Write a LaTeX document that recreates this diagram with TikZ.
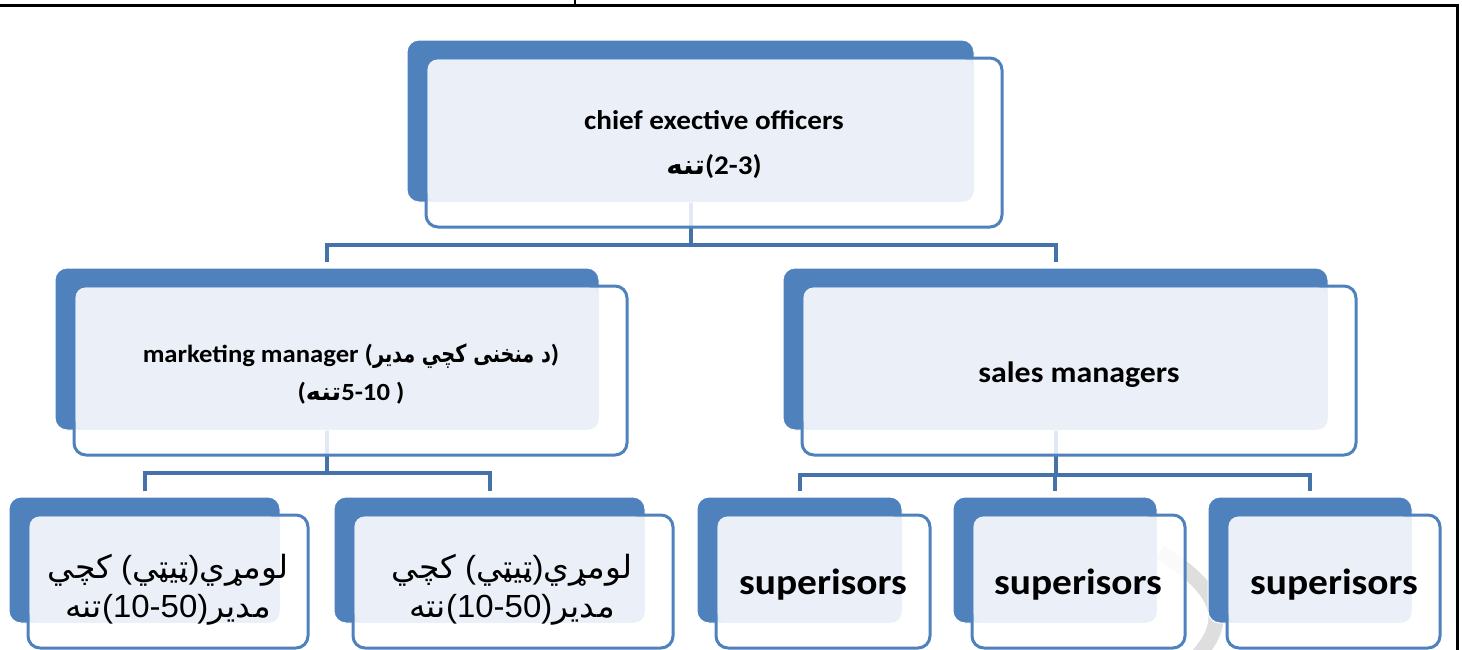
\documentclass[tikz,border=0pt]{standalone}
\usepackage{fontspec}
\setmainfont[FakeStretch=1.08]{Carlito}
\newfontfamily\arb[Script=Arabic,FakeStretch=1.03]{DejaVu Sans}
\newfontfamily\arbn[Script=Arabic,FakeStretch=0.78]{DejaVu Sans}
\newfontfamily\arl[FakeStretch=1.03]{Liberation Sans}
\TeXXeTstate=1
\usetikzlibrary{fit}
\pgfdeclarelayer{bg}
\pgfsetlayers{bg,main}
\definecolor{bback}{HTML}{4F81BD}
\definecolor{bline}{HTML}{4F81BD}
\definecolor{blight}{HTML}{EBF0F8}
\definecolor{bconn}{RGB}{70,114,170}
\definecolor{wmark}{HTML}{DEDEDE}
\tikzset{
  backbox/.style={fill=bback, draw=white, line width=1pt, rounded corners=12pt, inner sep=0pt, outer sep=0pt},
  frontbox/.style={draw=bline, line width=3pt, fill=white, fill opacity=0.85, rounded corners=12pt, inner sep=0pt, outer sep=0pt},
  lightbox/.style={fill=blight, rounded corners=10pt},
  conn/.style={draw=bconn, line width=4pt, line join=miter},
  txt/.style={anchor=base, inner sep=0pt, text=black},
  ttop/.style={txt, font=\fontsize{27}{32}\selectfont\bfseries},
  tmid/.style={txt, font=\fontsize{24.7}{30}\selectfont\bfseries},
  tsales/.style={txt, font=\fontsize{29.5}{35}\selectfont\bfseries},
  tsup/.style={txt, font=\fontsize{36.5}{42}\selectfont\bfseries},
  tar/.style={txt, font=\fontsize{32}{38}\selectfont\arl},
}
\newcommand\orgbox[5]{%
  \node[backbox, fit={(#2,#3)(#4,#5)}] (#1-b) {};
  \node[frontbox, fit={(#2+19,#3+18)(#4+28,#5+25)}] (#1-f) {};
  \fill[lightbox] ([xshift=1.5pt,yshift=-1.5pt]#1-f.north west) rectangle ([xshift=-0.5pt,yshift=0.5pt]#1-b.south east);
}
\begin{document}
\begin{tikzpicture}[x=1pt,y=-1pt]
\useasboundingbox (0,0) rectangle (1462,649);
\clip (0,0) rectangle (1462,649);
% boxes
\orgbox{ceo}{407}{40}{974}{202}
\orgbox{mm}{55}{268}{599}{430}
\orgbox{sm}{783}{268}{1328}{430}
\orgbox{la}{9}{497}{280}{623}
\orgbox{lb}{334}{497}{645}{623}
\orgbox{sa}{697}{497}{902}{623}
\orgbox{sb}{953}{497}{1157}{623}
\orgbox{sc}{1208}{497}{1412}{623}
% background layer: page, watermark, connectors
\begin{pgfonlayer}{bg}
  \fill[white] (0,0) rectangle (1462,649);
  \draw[wmark, line width=15pt] (1160,552) .. controls (1228,595) and (1228,625) .. (1192,662);
  \coordinate (bus1) at (0,245);
  \coordinate (bus2) at (0,473);
  \coordinate (bus3) at (0,475);
  \draw[conn] (ceo-b.south) -- (ceo-b.south |- bus1);
  \draw[conn] ([yshift=6pt]mm-b.north) |- (sm-b.north |- bus1) -- ([yshift=6pt]sm-b.north);
  \draw[conn] (mm-b.south) -- (mm-b.south |- bus2);
  \draw[conn] ([yshift=6pt]la-b.north) |- (lb-b.north |- bus2) -- ([yshift=6pt]lb-b.north);
  \draw[conn] (sm-b.south) -- (sm-b.south |- bus3);
  \draw[conn] ([yshift=6pt]sa-b.north) |- (sc-b.north |- bus3) -- ([yshift=6pt]sc-b.north);
  \draw[conn] ([yshift=6pt]sb-b.north) -- (sb-b.north |- bus3);
\end{pgfonlayer}
% page frame
\draw[line width=3pt] (-10,5) -- (1457,5) -- (1457,670);
\draw[line width=1.2pt] (575,0) -- (575,3.5);
% texts
\node[ttop] (ceo-t1) at (714,129) {chief exective officers};
\node[ttop] (ceo-t2) at (714,174) {{\arb\beginR تنه\endR}(2-3)};
\node[tmid] (mm-t1) at (351,362) {marketing manager ({\arbn\beginR د منخنی کچي مدير\endR})};
\node[tmid] (mm-t2) at (351,400) {({\arb\beginR تنه\endR}5-10 )};
\node[tsales] (sm-t) at (1079,382) {sales managers};
\node[tar] (la-t1) at (168,578) {{\arb\beginR کچي\endR} ({\arb\beginR ټيټي\endR}){\arb\beginR لومړي\endR}};
\node[tar] (la-t2) at (168,617) {{\arb\beginR تنه\endR}(10-50){\arb\beginR مدير\endR}};
\node[tar] (lb-t1) at (512,578) {{\arb\beginR کچي\endR} ({\arb\beginR ټيټي\endR}){\arb\beginR لومړي\endR}};
\node[tar] (lb-t2) at (512,617) {{\arb\beginR نته\endR}(10-50){\arb\beginR مدير\endR}};
\node[tsup] (sa-t) at (823,594) {superisors};
\node[tsup] (sb-t) at (1078,594) {superisors};
\node[tsup] (sc-t) at (1334,594) {superisors};
\end{tikzpicture}
\end{document}
